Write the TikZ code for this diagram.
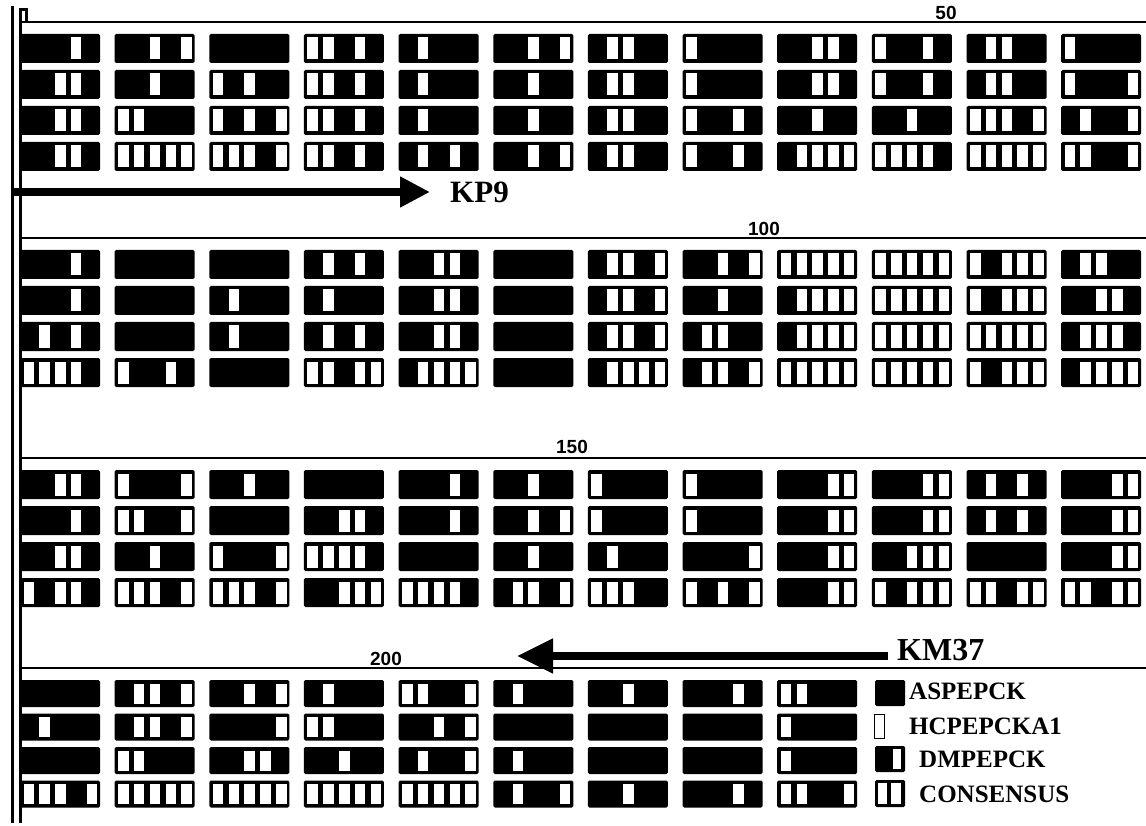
\documentclass[tikz,border=0pt]{standalone}
\usepackage{fontspec}
\setmainfont{Liberation Serif}
\newfontfamily\rulerfont{Liberation Sans}
\usetikzlibrary{arrows.meta}

% one block of five residues: x, y, height, white slots
\newcommand{\seqblock}[4]{%
  \fill[blockfill] (#1,#2) rectangle ++(80,#3);
  \edef\slotlist{#4}%
  \foreach \s in \slotlist {%
    \ifnum\s>0
      \fill[slotfill] ({#1+3.5+(\s-1)*15.8},{#2+3.5}) rectangle ++(10.5,{#3-7});
    \fi
  }%
}

% one alignment line: top, row pitch, row height, rows
\newcommand{\seqline}[4]{%
  \foreach \rowpats [count=\brow] in {#4}{%
    \foreach \p [count=\bcol] in \rowpats {%
      \pgfmathsetmacro\bx{20+94.65*(\bcol-1)}%
      \pgfmathsetmacro\by{#1+#2*(\brow-1)}%
      \seqblock{\bx}{\by}{#3}{\p}%
    }%
  }%
}

\begin{document}
\begin{tikzpicture}[x=1pt, y=-1pt,
            blockfill/.style={fill=black, rounded corners=1.5pt},
            slotfill/.style={fill=white},
            ruler/.style={draw=black, line width=2.5pt},
            margin/.style={draw=black, line width=3pt},
            primer/.style={line width=8pt},
            primerlabel/.style={font=\fontsize{31}{31}\selectfont\bfseries, inner sep=0pt, anchor=west},
            rulerlabel/.style={font=\rulerfont\fontsize{19}{19}\selectfont\bfseries, inner sep=0pt},
            legendlabel/.style={font=\fontsize{25}{25}\selectfont\bfseries, inner sep=0pt, anchor=west}
        ]
            \useasboundingbox (0,0) rectangle (1146,826);

            % margin lines
            \draw[margin] (12,6) -- (12,823);
            \draw[margin] (20,22) -- (20,823);
            \draw[margin] (20,22) -- (20,10) -- (26,10) -- (26,22);

            % ruler lines
            \foreach \ry in {22,238,458,668}{
                \draw[ruler] (20,\ry) -- (1146,\ry);
            }

            % ruler numbers
            \node[rulerlabel] (n50) at (946,13) {50};
            \node[rulerlabel] (n100) at (764,229) {100};
            \node[rulerlabel] (n150) at (572,447) {150};
            \node[rulerlabel] (n200) at (386,659) {200};

            % residues 1-60
            \seqline{34}{36}{29}{
                {{4},{3,5},{0},{1,2,4},{2},{3,5},{2,3},{1},{3,4},{1,4},{2,3},{1}},
                {{3,4},{3},{1,3},{1,2,4},{2},{3},{2,3},{1},{3,4},{1,4},{2,3},{1,5}},
                {{3,4},{1,2},{1,3,5},{1,2,4},{2},{3},{2,3},{1,4},{3},{3},{1,2,3,5},{2,5}},
                {{3,4},{1,2,3,4,5},{1,2,3,5},{1,2,4},{2,4},{3,5},{2,3},{1,4},{2,3,4,5},{1,2,3,4},{1,2,3,4,5},{1,2,5}}}

            % residues 61-120
            \seqline{250}{36}{29}{
                {{4},{0},{0},{2,4},{3,4},{0},{2,3,5},{3,5},{1,2,3,4,5},{1,2,3,4,5},{1,3,4,5},{2,3}},
                {{4},{0},{2},{2},{3,4},{0},{2,3,5},{3},{2,3,4,5},{1,2,3,4,5},{1,3,4,5},{3,4}},
                {{2,4},{0},{2},{2,4},{3,4},{0},{2,3,5},{2,3},{2,3,4,5},{1,2,3,4,5},{1,2,3,4,5},{2,3,4}},
                {{1,2,3,4},{1,4},{0},{1,2,4,5},{2,3,4,5},{0},{2,3,4,5},{2,3,5},{1,2,3,4,5},{1,2,3,4,5},{1,3,4,5},{2,3,4,5}}}

            % residues 121-180
            \seqline{470}{36}{29}{
                {{3,4},{1,5},{3},{0},{4},{3},{1},{1},{4,5},{4,5},{2,4},{4,5}},
                {{4},{1,2,5},{0},{3,4},{4},{3,5},{1},{1},{4,5},{4,5},{2,4},{4,5}},
                {{3,4},{3},{1,5},{1,2,3,4},{0},{3},{2},{5},{4,5},{3,4,5},{0},{4,5}},
                {{1,3,4},{1,2,3,5},{1,2,3,5},{3,4,5},{1,2,3,4},{2,3,5},{1,2,3},{1,3,5},{4,5},{1,3,4,5},{1,2,4,5},{1,2,4,5}}}

            % residues 181-225
            \seqline{680}{33.5}{27}{
                {{0},{2,3,5},{3,5},{2},{1,2,5},{2},{3},{4},{1,2}},
                {{2},{2,3,5},{5},{1,2},{3,5},{0},{0},{0},{1}},
                {{0},{1,2},{3,4},{3},{2,5},{2},{0},{0},{1}},
                {{1,2,3,5},{1,2,3,4,5},{1,2,3,4,5},{1,2,3,4,5},{1,2,3,4,5},{2,5},{3},{4},{1,2,5}}}

            % primers
            \node[primerlabel] (kp9) at (450,192) {KP9};
            \coordinate (kptail) at (12,192);
            \draw[primer, -{Triangle[length=30pt, width=29pt]}, shorten >=20pt] (kptail) -- (kp9.west);

            \node[primerlabel, font=\fontsize{32}{32}\selectfont\bfseries] (km37) at (897,650) {KM37};
            \coordinate (kmtip) at (517,656);
            \draw[primer, -{Triangle[length=36pt, width=33pt]}, shorten <=9pt] ([yshift=-6pt]km37.west) -- (kmtip);

            % legend
            \fill[blockfill] (875,680) rectangle ++(30,26);
            \node[legendlabel] (asp) at (909,691) {ASPEPCK};
            \draw[line width=1.5pt] (874.5,714.5) rectangle ++(10,24);
            \node[legendlabel] (hcp) at (909,726) {HCPEPCKA1};
            \fill[blockfill] (875,746) rectangle ++(30,26);
            \fill[slotfill] (893,749) rectangle ++(8,20);
            \node[legendlabel] (dmp) at (919,759) {DMPEPCK};
            \fill[blockfill] (875,780) rectangle ++(30,27);
            \fill[slotfill] (878,783) rectangle ++(9,21);
            \fill[slotfill] (891,783) rectangle ++(10,21);
            \node[legendlabel] (cons) at (919,794) {CONSENSUS};

        \end{tikzpicture}
\end{document}
